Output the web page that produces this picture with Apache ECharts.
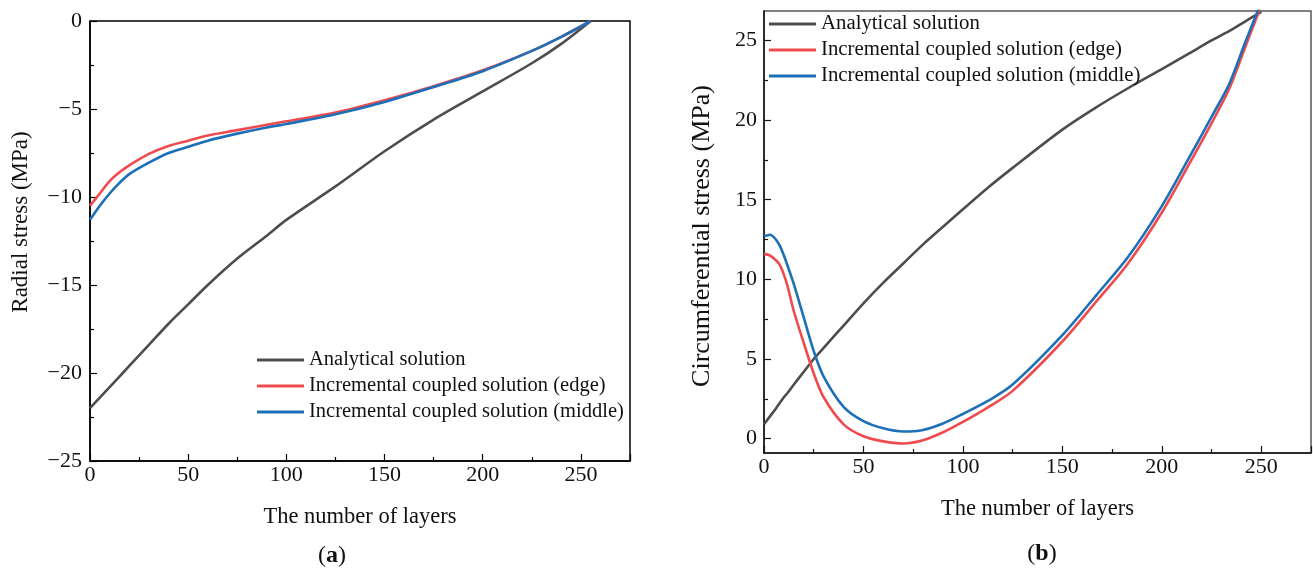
<!DOCTYPE html>
<html>
<head>
<meta charset="utf-8">
<script src="https://cdn.jsdelivr.net/npm/echarts@6/dist/echarts.min.js"></script>
<style>
  html, body { margin: 0; padding: 0; background: #fff; }
  #chart { width: 1313px; height: 573px; }
</style>
</head>
<body>
<div id="chart"></div>
<script>
// (a) radial stress
var layersA = [0, 5, 10, 15, 20, 30, 40, 50, 60, 75, 90, 100, 125, 150, 175, 200, 225, 240, 255];
var analyticalA = [-22.0, -21.4, -20.8, -20.2, -19.6, -18.4, -17.2, -16.1, -15.0, -13.5, -12.2, -11.3, -9.4, -7.4, -5.6, -4.0, -2.4, -1.3, 0];
var edgeA = [-10.5, -9.8, -9.1, -8.6, -8.2, -7.55, -7.1, -6.8, -6.5, -6.2, -5.9, -5.7, -5.2, -4.5, -3.7, -2.8, -1.7, -0.9, 0];
var middleA = [-11.3, -10.5, -9.8, -9.2, -8.7, -8.05, -7.5, -7.15, -6.8, -6.4, -6.05, -5.85, -5.3, -4.6, -3.75, -2.85, -1.7, -0.9, 0];

// (b) circumferential stress
var layersB = [0, 3, 6, 8, 10, 12, 15, 20, 25, 30, 40, 50, 60, 70, 80, 90, 100, 113, 125, 150, 167, 183, 200, 214, 225, 234, 242, 250];
var analyticalB = [0.9, 1.4, 1.9, 2.25, 2.6, 2.9, 3.4, 4.2, 5.0, 5.7, 7.1, 8.5, 9.8, 11.0, 12.2, 13.3, 14.4, 15.8, 17.0, 19.4, 20.8, 22.0, 23.2, 24.2, 25.0, 25.6, 26.2, 26.8];
var edgeB = [11.6, 11.5, 11.2, 10.9, 10.3, 9.5, 8.0, 6.0, 4.1, 2.6, 0.9, 0.15, -0.17, -0.3, -0.1, 0.4, 1.05, 2.0, 3.0, 6.1, 8.6, 11.0, 14.2, 17.3, 19.8, 22.0, 24.6, 27.2];
var middleB = [12.7, 12.8, 12.5, 12.1, 11.5, 10.8, 9.7, 7.6, 5.5, 3.9, 2.0, 1.1, 0.65, 0.45, 0.55, 0.95, 1.55, 2.4, 3.4, 6.5, 9.0, 11.4, 14.6, 17.7, 20.2, 22.3, 24.9, 27.4];

var majorB = [0, 5, 10, 15, 20, 25];
var minorB = [2.5, 7.5, 12.5, 17.5, 22.5];

var seriesNames = ['Analytical solution', 'Incremental coupled solution (edge)', 'Incremental coupled solution (middle)'];
var colors = ['#4d4d4d', '#ef4b4f', '#1d6fb8'];

function pairs(xs, ys) {
    return xs.map(function (x, i) { return [x, ys[i]]; });
}
function minus(v) {
    return String(v).replace('-', '\u2212');
}

var font = 'Liberation Serif';
var chart = echarts.init(document.getElementById('chart'));

function line(name, xs, ys, xi, yi, color) {
    return {
        name: name, type: 'line', xAxisIndex: xi, yAxisIndex: yi,
        data: pairs(xs, ys), showSymbol: false, smooth: 0.3,
        lineStyle: {color: color, width: 2.6}, itemStyle: {color: color}
    };
}

function xAxis(gridIndex, color) {
    return {
        type: 'value', gridIndex: gridIndex, min: 0, max: 275, interval: 50,
        name: 'The number of layers', nameLocation: 'middle', nameGap: 45,
        nameTextStyle: {fontFamily: font, fontSize: 22.5, color: '#111'},
        axisLine: {onZero: false, lineStyle: {color: color, width: 1.5}},
        axisTick: {inside: true, length: 7, lineStyle: {color: color, width: 1.2}},
        minorTick: {show: true, splitNumber: 2, length: 4, lineStyle: {color: color, width: 1.2}},
        axisLabel: {fontFamily: font, fontSize: 22, color: '#111', margin: 3, showMaxLabel: false},
        splitLine: {show: false}
    };
}

function legend(left, top, size) {
    return {data: seriesNames, left: left, top: top, orient: 'vertical', itemGap: 4, padding: 0,
        itemWidth: 47, itemHeight: 3, icon: 'rect',
        textStyle: {fontFamily: font, fontSize: size, lineHeight: 22, color: '#111'}};
}

function panelTag(letter, x, y) {
    return {text: '({b|' + letter + '})', left: x, top: y, textAlign: 'center',
        textStyle: {fontFamily: font, fontSize: 24, fontWeight: 'normal', color: '#111',
            rich: {b: {fontFamily: font, fontSize: 24, fontWeight: 'bold', color: '#111'}}}};
}

function yName(text, x, y, size) {
    return {type: 'text', x: x, y: y, rotation: Math.PI / 2,
        style: {text: text, fontFamily: font, fontSize: size, fill: '#111',
            align: 'center', verticalAlign: 'middle'}};
}

chart.setOption({
    animation: false,
    title: [panelTag('a', 327, 539), panelTag('b', 1037, 537)],
    legend: [legend(257, 349, 20.5), legend(769, 13, 20.8)],
    graphic: [
        yName('Radial stress (MPa)', 21, 222, 23),
        yName('Circumferential stress (MPa)', 702, 236, 26)
    ],
    grid: [
        {left: 90, top: 21, width: 540, height: 440, outerBoundsMode: 'none',
            show: true, borderColor: '#000', borderWidth: 1.5},
        {left: 764, top: 11, width: 547, height: 442, outerBoundsMode: 'none',
            show: true, borderColor: '#555', borderWidth: 1.5}
    ],
    xAxis: [xAxis(0, '#000'), xAxis(1, '#111')],
    yAxis: [
        {type: 'value', gridIndex: 0, position: 'left', min: -25, max: 0, interval: 5,
            axisLine: {onZero: false, lineStyle: {color: '#000', width: 1.5}},
            axisTick: {inside: true, length: 7, lineStyle: {color: '#000', width: 1.2}},
            minorTick: {show: true, splitNumber: 2, length: 4, lineStyle: {color: '#000', width: 1.2}},
            axisLabel: {fontFamily: font, fontSize: 22, color: '#111', margin: 8, formatter: minus},
            splitLine: {show: false}},
        {type: 'value', gridIndex: 1, position: 'left', min: -0.9, max: 26.85,
            axisLine: {onZero: false, lineStyle: {color: '#111', width: 1.5}},
            axisTick: {inside: true, length: 7, customValues: majorB, lineStyle: {color: '#111', width: 1.2}},
            axisLabel: {fontFamily: font, fontSize: 22, color: '#111', margin: 7, customValues: majorB},
            splitLine: {show: false}},
        {type: 'value', gridIndex: 1, position: 'left', min: -0.9, max: 26.85,
            axisLine: {show: false, onZero: false},
            axisTick: {inside: true, length: 4, customValues: minorB, lineStyle: {color: '#111', width: 1.2}},
            axisLabel: {show: false},
            splitLine: {show: false}}
    ],
    series: [
        line(seriesNames[0], layersA, analyticalA, 0, 0, colors[0]),
        line(seriesNames[1], layersA, edgeA, 0, 0, colors[1]),
        line(seriesNames[2], layersA, middleA, 0, 0, colors[2]),
        line(seriesNames[0], layersB, analyticalB, 1, 1, colors[0]),
        line(seriesNames[1], layersB, edgeB, 1, 1, colors[1]),
        line(seriesNames[2], layersB, middleB, 1, 1, colors[2])
    ]
});
</script>
</body>
</html>
